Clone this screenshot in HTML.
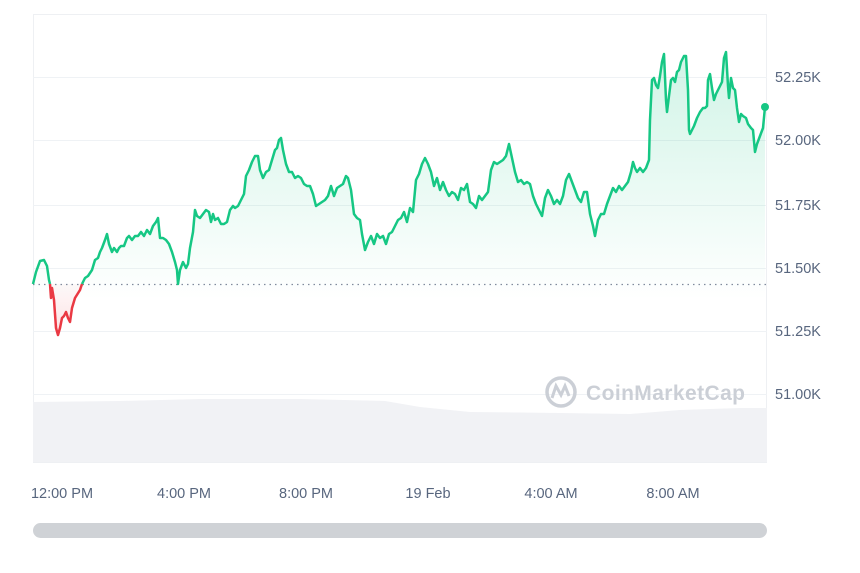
<!DOCTYPE html>
<html><head><meta charset="utf-8"><style>
html,body{margin:0;padding:0;background:#fff;width:860px;height:573px;overflow:hidden}
svg{display:block}
text{font-family:"Liberation Sans",sans-serif}
</style></head><body>
<svg width="860" height="573" viewBox="0 0 860 573">
<defs>
<linearGradient id="g" gradientUnits="userSpaceOnUse" x1="0" y1="50" x2="0" y2="300"><stop offset="0" stop-color="#16c784" stop-opacity="0.2"/><stop offset="1" stop-color="#16c784" stop-opacity="0"/></linearGradient>
<linearGradient id="r" x1="0" y1="0" x2="0" y2="1"><stop offset="0" stop-color="#ea3943" stop-opacity="0.03"/><stop offset="1" stop-color="#ea3943" stop-opacity="0.15"/></linearGradient>
</defs>
<rect x="33.5" y="14.5" width="733" height="448" fill="none" stroke="#eef0f3"/>
<g stroke="#eff2f5" stroke-width="1">
<line x1="33" x2="767" y1="77.5" y2="77.5"/><line x1="33" x2="767" y1="140.5" y2="140.5"/><line x1="33" x2="767" y1="205.5" y2="205.5"/><line x1="33" x2="767" y1="268.5" y2="268.5"/><line x1="33" x2="767" y1="331.5" y2="331.5"/><line x1="33" x2="767" y1="394.5" y2="394.5"/>
</g>
<polygon fill="#f1f2f5" points="33,402 120,401 200,399 300,399 385,401 420,407 470,412 560,413 630,414 680,410 740,408 767,408 767,462 33,462"/>
<g fill="#cbcfd6" font-size="21" font-weight="bold">
<circle cx="561" cy="392" r="14" fill="none" stroke="#cbcfd6" stroke-width="3.5"/>
<path d="M552,398 L556,386 L561,395 L565,386 L569,396" fill="none" stroke="#cbcfd6" stroke-width="3"/>
<text x="586" y="400" textLength="159">CoinMarketCap</text>
</g>
<polygon fill="url(#g)" points="33,400 33,284 36,272 40,261 44,260 47,266 49,280 50,284 82,284 85,278 88,276 92,270 95,260 98,258 100,252 102,248 105,240 107,234 109,244 112,252 114,248 117,252 119,248 121,246 124,246 127,238 129,236 132,240 135,236 138,236 141,232 144,236 147,230 150,234 153,226 156,222 158,218 160,238 163,238 166,240 169,244 172,252 175,262 177,270 178,284 180,270 183,262 186,268 188,264 190,248 193,232 195,210 197,216 200,218 203,214 206,210 209,212 211,222 213,214 215,220 218,218 221,224 224,224 227,222 230,210 233,206 235,208 238,206 241,200 244,194 246,176 249,170 252,162 255,156 258,156 260,170 263,178 266,172 269,170 272,160 275,150 277,148 279,140 281,138 283,150 286,164 289,172 292,172 295,178 298,176 301,178 304,184 307,186 310,186 313,194 316,206 319,204 322,202 325,200 328,196 331,186 334,196 337,188 340,186 343,184 346,176 348,178 351,190 354,214 357,218 360,220 362,234 365,250 368,242 371,236 374,244 377,234 380,238 383,236 386,244 389,234 392,232 395,226 398,220 401,218 404,212 407,222 410,208 413,212 416,180 419,174 422,164 425,158 428,164 431,172 434,186 437,178 440,190 443,182 446,190 449,196 452,192 455,194 458,200 461,188 464,190 467,184 470,202 473,204 476,208 479,196 482,200 485,196 488,192 491,170 494,162 497,164 500,162 503,160 506,156 509,144 512,158 515,172 518,182 521,180 524,184 527,182 530,184 533,196 536,204 539,210 542,216 545,198 548,190 551,196 554,204 557,200 560,204 563,196 566,180 569,174 572,182 575,190 578,198 581,202 584,192 587,192 590,214 593,226 595,236 598,220 601,214 604,214 607,204 610,196 613,188 616,192 619,186 622,190 625,186 628,182 631,172 633,162 635,168 637,172 640,168 643,172 646,168 649,160 650,120 652,80 654,78 656,85 658,88 660,76 662,62 664,54 666,100 667,112 669,96 671,80 673,78 675,82 677,72 679,70 681,62 684,56 686,56 688,90 689,130 690,134 692,130 694,126 697,118 700,112 703,108 705,108 707,106 708,80 710,74 712,88 714,100 716,94 718,90 720,86 722,82 724,58 726,52 728,86 729,98 731,78 733,88 735,90 737,108 739,122 741,114 743,116 746,118 748,124 751,128 753,130 755,152 757,144 760,136 763,128 765,107 765,400"/>
<polygon fill="url(#r)" points="50,284 51,298 52,288 54,300 56,328 58,335 60,328 62,318 64,316 66,312 68,318 70,322 72,308 75,298 80,290 82,284"/>
<line x1="33" x2="767" y1="284.5" y2="284.5" stroke="#808a9d" stroke-dasharray="1.5 4" stroke-width="1.2"/>
<polyline fill="none" stroke="#16c784" stroke-width="2.5" stroke-linejoin="round" points="33,284 36,272 40,261 44,260 47,266 49,280 50,284"/>
<polyline fill="none" stroke="#ea3943" stroke-width="2.5" stroke-linejoin="round" points="50,284 51,298 52,288 54,300 56,328 58,335 60,328 62,318 64,316 66,312 68,318 70,322 72,308 75,298 80,290 82,284"/>
<polyline fill="none" stroke="#16c784" stroke-width="2.5" stroke-linejoin="round" points="82,284 85,278 88,276 92,270 95,260 98,258 100,252 102,248 105,240 107,234 109,244 112,252 114,248 117,252 119,248 121,246 124,246 127,238 129,236 132,240 135,236 138,236 141,232 144,236 147,230 150,234 153,226 156,222 158,218 160,238 163,238 166,240 169,244 172,252 175,262 177,270 178,284 180,270 183,262 186,268 188,264 190,248 193,232 195,210 197,216 200,218 203,214 206,210 209,212 211,222 213,214 215,220 218,218 221,224 224,224 227,222 230,210 233,206 235,208 238,206 241,200 244,194 246,176 249,170 252,162 255,156 258,156 260,170 263,178 266,172 269,170 272,160 275,150 277,148 279,140 281,138 283,150 286,164 289,172 292,172 295,178 298,176 301,178 304,184 307,186 310,186 313,194 316,206 319,204 322,202 325,200 328,196 331,186 334,196 337,188 340,186 343,184 346,176 348,178 351,190 354,214 357,218 360,220 362,234 365,250 368,242 371,236 374,244 377,234 380,238 383,236 386,244 389,234 392,232 395,226 398,220 401,218 404,212 407,222 410,208 413,212 416,180 419,174 422,164 425,158 428,164 431,172 434,186 437,178 440,190 443,182 446,190 449,196 452,192 455,194 458,200 461,188 464,190 467,184 470,202 473,204 476,208 479,196 482,200 485,196 488,192 491,170 494,162 497,164 500,162 503,160 506,156 509,144 512,158 515,172 518,182 521,180 524,184 527,182 530,184 533,196 536,204 539,210 542,216 545,198 548,190 551,196 554,204 557,200 560,204 563,196 566,180 569,174 572,182 575,190 578,198 581,202 584,192 587,192 590,214 593,226 595,236 598,220 601,214 604,214 607,204 610,196 613,188 616,192 619,186 622,190 625,186 628,182 631,172 633,162 635,168 637,172 640,168 643,172 646,168 649,160 650,120 652,80 654,78 656,85 658,88 660,76 662,62 664,54 666,100 667,112 669,96 671,80 673,78 675,82 677,72 679,70 681,62 684,56 686,56 688,90 689,130 690,134 692,130 694,126 697,118 700,112 703,108 705,108 707,106 708,80 710,74 712,88 714,100 716,94 718,90 720,86 722,82 724,58 726,52 728,86 729,98 731,78 733,88 735,90 737,108 739,122 741,114 743,116 746,118 748,124 751,128 753,130 755,152 757,144 760,136 763,128 765,107"/>
<circle cx="765" cy="107" r="4" fill="#16c784"/>
<g fill="#58667e" font-size="14.5">
<text x="775" y="82">52.25K</text><text x="775" y="145">52.00K</text><text x="775" y="210">51.75K</text><text x="775" y="273">51.50K</text><text x="775" y="336">51.25K</text><text x="775" y="399">51.00K</text>
</g>
<g fill="#58667e" font-size="14.5" text-anchor="middle">
<text x="62" y="498">12:00 PM</text><text x="184" y="498">4:00 PM</text><text x="306" y="498">8:00 PM</text><text x="428" y="498">19 Feb</text><text x="551" y="498">4:00 AM</text><text x="673" y="498">8:00 AM</text>
</g>
<rect x="33" y="523" width="734" height="15" rx="7.5" fill="#cfd2d6"/>
</svg>
</body></html>
